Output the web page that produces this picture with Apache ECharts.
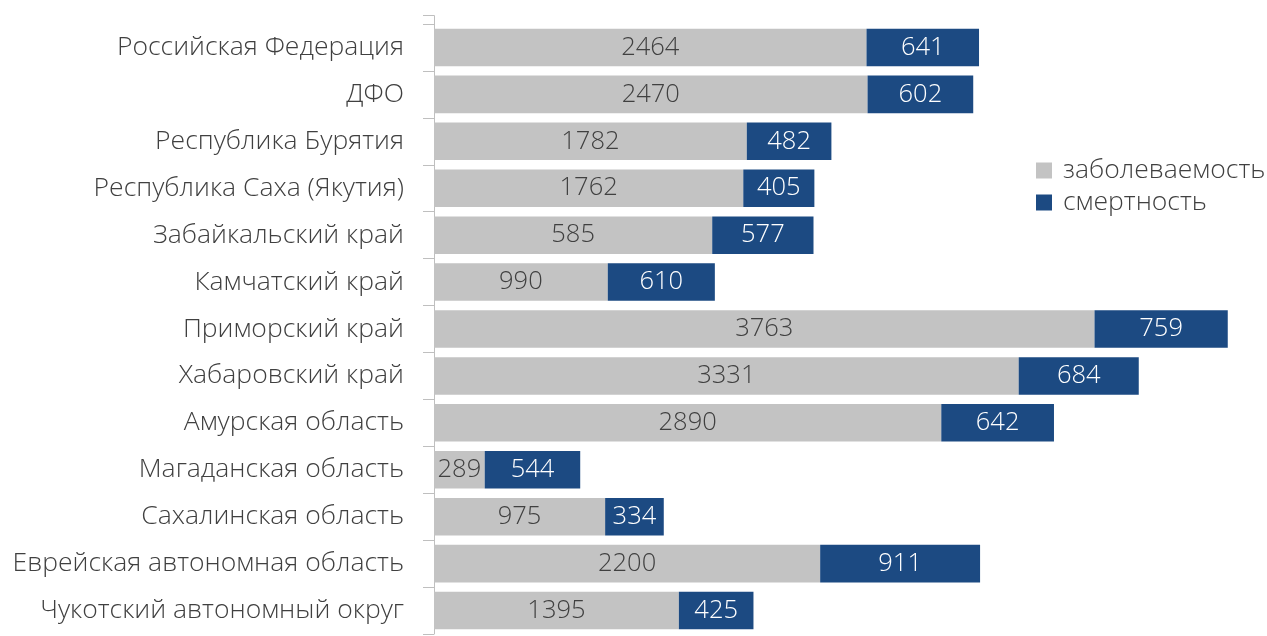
<!DOCTYPE html>
<html>
<head>
<meta charset="utf-8">
<script src="https://cdn.jsdelivr.net/npm/echarts@6/dist/echarts.min.js"></script>
<style>html,body{margin:0;padding:0;background:#fff;}#c{width:1267px;height:636px;}</style>
</head>
<body>
<div id="c"></div>
<script>
const categories = ["Российская Федерация","ДФО","Республика Бурятия","Республика Саха (Якутия)","Забайкальский край","Камчатский край","Приморский край","Хабаровский край","Амурская область","Магаданская область","Сахалинская область","Еврейская автономная область","Чукотский автономный округ"];
// bar lengths as drawn in the reference
const morbidity = [2464,2470,1782,1762,1585,990,3763,3331,2890,289,975,2200,1395];
// value labels as printed in the reference
const morbidityLabels = ["2464","2470","1782","1762","585","990","3763","3331","2890","289","975","2200","1395"];
const mortality = [641,602,482,405,577,610,759,684,642,544,334,911,425];
const seriesNames = ["заболеваемость","смертность"];

const font = "'Open Sans', sans-serif";
const fw = 300;
const chart = echarts.init(document.getElementById('c'), null, {renderer:'canvas'});
chart.setOption({
  animation:false,
  textStyle:{fontFamily:font},
  legend:{
    data:seriesNames, orient:'vertical', left:1031, top:152,
    itemWidth:16, itemHeight:16, itemGap:5, icon:'rect',
    textStyle:{fontFamily:font, fontWeight:fw, fontSize:26.5, lineHeight:22, color:'#404040', padding:[0,0,0,6]}
  },
  grid:{left:434, right:8, top:24, bottom:2, containLabel:false},
  xAxis:{type:'value', min:0, max:4700, show:false},
  yAxis:{
    type:'category', data:categories, inverse:true,
    axisLine:{show:true, lineStyle:{color:'#bfbfbf', width:1}},
    axisTick:{show:true, length:11, lineStyle:{color:'#bfbfbf'}},
    axisLabel:{fontFamily:font, fontWeight:fw, fontSize:26.5, color:'#404040', margin:30},
    splitLine:{show:false}
  },
  graphic:[
    {type:'polyline', silent:true, shape:{points:[[423,15.5],[434.5,15.5],[434.5,24]]},
     style:{stroke:'#bfbfbf', lineWidth:1, fill:null}}
  ],
  series:[
    {name:seriesNames[0], type:'bar', stack:'s', data:morbidity, barCategoryGap:'20%',
     itemStyle:{color:'#c3c3c3'},
     label:{show:true, position:'inside', fontFamily:font, fontWeight:fw, fontSize:25.5, color:'#404040',
            formatter:p => morbidityLabels[p.dataIndex]}},
    {name:seriesNames[1], type:'bar', stack:'s', data:mortality,
     itemStyle:{color:'#1c4a82'},
     label:{show:true, position:'inside', fontFamily:font, fontWeight:fw, fontSize:25.5, color:'#ffffff'}}
  ]
});
</script>
</body>
</html>
